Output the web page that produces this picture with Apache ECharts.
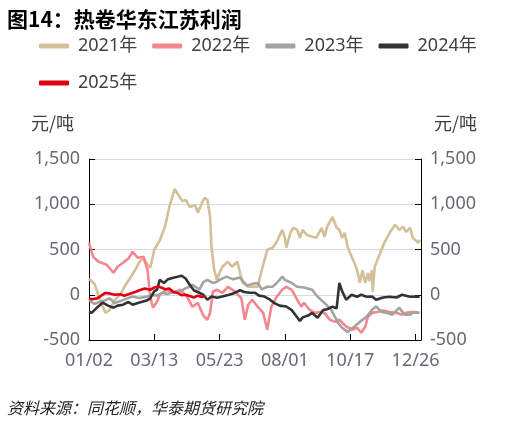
<!DOCTYPE html>
<html><head><meta charset="utf-8">
<script src="https://cdn.jsdelivr.net/npm/echarts@6/dist/echarts.min.js"></script>
<style>html,body{margin:0;padding:0;background:#fff}#c{width:519px;height:426px}</style>
</head><body><div id="c"></div>
<script>
const seriesNames = ['2021年','2022年','2023年','2024年','2025年'];
const tickLabels = ['01/02','03/13','05/23','08/01','10/17','12/26'];
const s2021 = [[0,177],[4,120],[8,-50],[12,-200],[15,-170],[19,-55],[23,0],[26,88],[30,180],[34,276],[37,360],[40,410],[43,330],[45,300],[48,497],[52,600],[56,760],[59,970],[63,1170],[67,1070],[69,1030],[71,1050],[74,970],[78,990],[80,905],[83,1015],[85,1070],[87,1050],[89,860],[90,530],[92,276],[94,165],[96,243],[98,310],[102,364],[105,310],[109,364],[111,243],[113,132],[117,88],[120,90],[124,88],[127,276],[129,386],[131,497],[135,519],[138,585],[142,717],[144,629],[145,519],[148,684],[150,740],[153,717],[155,629],[157,717],[160,662],[164,640],[167,629],[171,740],[173,640],[175,750],[179,860],[182,740],[184,717],[186,629],[188,684],[190,530],[193,420],[195,353],[197,276],[199,132],[201,270],[203,132],[205,243],[206,150],[208,270],[208.5,33],[210,310],[212,386],[215,497],[217,574],[221,684],[225,773],[228,717],[231,750],[233,695],[236,740],[238,629],[242,574],[243,607]];
const s2022 = [[0,574],[1,560],[3,420],[7,364],[10,350],[13,331],[18,243],[21,310],[25,353],[29,400],[32,475],[36,408],[40,420],[43,276],[45,-22],[47,-143],[50,-77],[52,0],[57,55],[62,20],[67,55],[72,-22],[76,-132],[80,-90],[84,-230],[87,-276],[89,-200],[91,33],[94,55],[98,20],[102,88],[107,40],[112,-40],[114.5,-276],[117,-110],[120,-55],[124,-132],[128,-200],[131,-386],[134,-132],[138,-22],[142,55],[145,88],[149,55],[153,-55],[156,-132],[158,-88],[162,-165],[166,-200],[170,-190],[173,-200],[177,-276],[181,-300],[184,-276],[189,-353],[194,-386],[197,-365],[200,-420],[203,-353],[205,-243],[208,-200],[212,-190],[216,-175],[221,-190],[226,-200],[230,-220],[233,-200],[237,-190],[242,-200]];
const s2023 = [[0,-60],[4,-100],[8,-80],[12,-60],[15,-40],[19,-90],[23,-70],[28,-40],[32,-20],[37,-35],[43,-20],[46,0],[50,-10],[54,20],[58,10],[62,33],[67,40],[72,77],[76,110],[79,80],[81,55],[84,140],[87,165],[91,130],[94,143],[96,165],[101,200],[106,170],[111,190],[116,100],[120,120],[124,130],[127,60],[131,88],[135,90],[138,130],[142,200],[144,165],[149,130],[153,88],[158,80],[164,55],[168,-22],[173,-90],[178,-165],[183,-310],[186,-365],[190,-410],[195,-353],[199,-300],[204,-243],[208,-165],[211,-130],[215,-190],[219,-200],[223,-220],[228,-143],[232,-220],[236,-220],[239,-190],[243,-200]];
const s2024 = [[0,-190],[2,-200],[6,-140],[10,-88],[14,-120],[18,-143],[21,-120],[25,-110],[29,-80],[32,-110],[36,-90],[39,-77],[43,-60],[45,-40],[48,40],[50,55],[52,165],[55,130],[58,170],[62,188],[65,200],[68,210],[71,180],[74,110],[77,50],[81,22],[84,0],[87,-55],[90,-20],[94,-33],[98,-20],[103,0],[107,20],[111,50],[114,30],[118,22],[122,22],[125,-10],[129,-20],[133,-55],[136,-90],[140,-120],[145,-130],[149,-170],[152,-230],[155,-290],[157,-250],[161,-230],[164,-200],[168,-254],[172,-170],[175,-160],[179,-132],[182,-150],[184,130],[186,40],[189,-55],[193,0],[197,-22],[200,0],[204,-22],[208,-20],[211,-55],[216,-30],[221,-22],[226,-30],[230,0],[236,-22],[241,-20],[243,-22]];
const s2025 = [[0,-40],[2,-50],[6,-40],[9,-10],[12,20],[15,15],[19,0],[23,5],[26,-10],[30,10],[34,30],[37,50],[41,70],[45,55],[48,80],[51,90],[54,75],[56,60],[59,70],[62,30],[65,20],[68,-5],[71,0],[74,-15],[77,-30],[80,-10],[83,-25],[85,-15]];

const colors = ['#d3bf98','#f4878d','#a3a3a3','#333333','#e0000f'];
const font = '"Noto Sans","Noto Sans CJK SC",sans-serif';
const cjk = '"Noto Sans CJK SC","Noto Sans",sans-serif';
const chart = echarts.init(document.getElementById('c'));
const dataList = [s2021, s2022, s2023, s2024, s2025];
const yLabel = v => Number(v).toLocaleString('en-US');
chart.setOption({
  animation: false,
  textStyle: {fontFamily: font},
  color: colors,
  graphic: [
    {type:'text', left: 7, top: 9, style:{text:'图14：热卷华东江苏利润', font:'bold 21px ' + cjk, fill:'#000'}},
    {type:'text', left: 31, top: 114, style:{text:'元/吨', font:'18px ' + cjk, fill:'#404040'}},
    {type:'text', left: 434, top: 114, style:{text:'元/吨', font:'18px ' + cjk, fill:'#404040'}},
    {type:'text', left: 7, top: 400, style:{text:'资料来源：同花顺，华泰期货研究院', font:'italic 16px ' + cjk, fill:'#222'}}
  ],
  legend: {
    left: 39, top: 35, width: 470, padding: 0,
    itemWidth: 30, itemHeight: 5, itemGap: 15,
    icon: 'roundRect',
    textStyle: {fontSize: 18, color: '#404040', lineHeight: 22, fontFamily: font, padding: [0,0,0,4]},
    data: seriesNames
  },
  grid: {left: 89, right: 98, top: 159, bottom: 86},
  xAxis: {
    type: 'value', min: 0, max: 244, interval: 48,
    axisLine: {show: true, onZero: false, lineStyle: {color: '#000', width: 1}},
    axisTick: {show: true, inside: true, length: 6, lineStyle: {color: '#000'}},
    splitLine: {show: false},
    axisLabel: {fontSize: 18, color: '#666a74', margin: 12, showMaxLabel: false,
      formatter: v => (v % 48 === 0 ? (tickLabels[v / 48] || '') : '')}
  },
  yAxis: [
    {type: 'value', min: -500, max: 1500, interval: 500, position: 'left',
      axisLine: {show: true, lineStyle: {color: '#000'}},
      axisTick: {show: true, inside: true, length: 6, lineStyle: {color: '#000'}},
      splitLine: {show: true, lineStyle: {color: '#d5d9e6', width: 1}},
      axisLabel: {fontSize: 18, color: '#666a74', margin: 9, formatter: yLabel}},
    {type: 'value', min: -500, max: 1500, interval: 500, position: 'right',
      axisLine: {show: true, lineStyle: {color: '#000'}},
      axisTick: {show: true, inside: true, length: 6, lineStyle: {color: '#000'}},
      splitLine: {show: false},
      axisLabel: {fontSize: 18, color: '#666a74', margin: 9, formatter: yLabel}}
  ],
  series: seriesNames.map((n, i) => ({
    name: n, type: 'line', data: dataList[i], showSymbol: false, symbol: 'none',
    lineStyle: {width: 2.6, color: colors[i]}, itemStyle: {color: colors[i]},
    z: 2 + i
  }))
});
</script></body></html>
